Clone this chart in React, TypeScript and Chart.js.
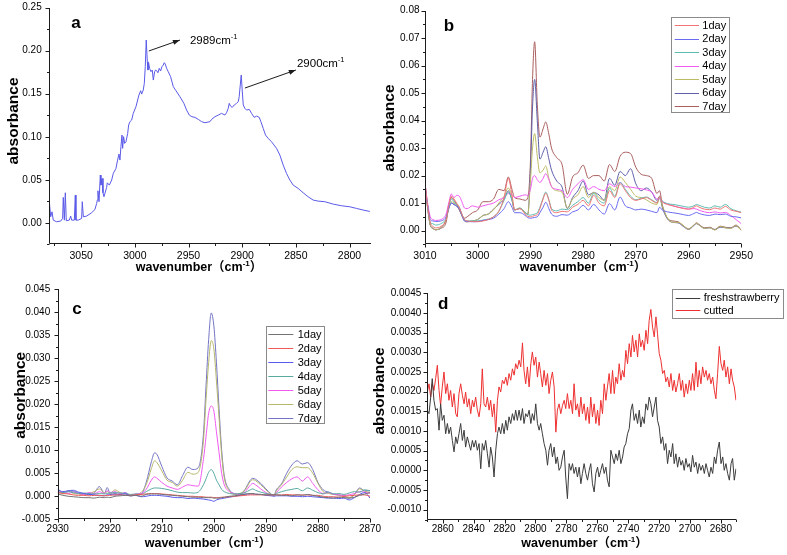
import React, { useEffect, useRef } from 'react';
import { Chart, registerables } from 'chart.js';

Chart.register(...registerables);

const W = 787;
const H = 555;
const SANS = "'Liberation Sans', Arial, Helvetica, sans-serif";
const NARROW = "'Liberation Sans Narrow', 'Liberation Sans', Arial, sans-serif";
const TITLE_FONT = "bold 12.5px 'Liberation Sans', Arial, 'Noto Sans CJK SC', sans-serif";
const SUP_FONT = "bold 8px 'Liberation Sans', Arial, sans-serif";

// ---------------- Panel a ----------------
const A_WN = [3079.7, 3078.4, 3077.2, 3076.0, 3072.9, 3069.1, 3067.3, 3066.7, 3065.7, 3064.8,
  3063.9, 3061.1, 3059.8, 3058.9, 3056.4, 3055.5, 3054.9, 3052.7, 3049.6, 3049.0,
  3048.0, 3044.9, 3040.3, 3037.2, 3035.6, 3035.0, 3034.4, 3033.4, 3032.2, 3031.6,
  3030.6, 3029.7, 3028.8, 3026.3, 3025.7, 3023.8, 3021.6, 3020.1, 3017.6, 3016.1,
  3014.8, 3013.9, 3013.0, 3012.0, 3011.4, 3010.5, 3009.5, 3008.3, 3006.7, 3005.8,
  3004.6, 3003.0, 3001.5, 2999.0, 2997.4, 2996.2, 2994.6, 2993.7, 2992.2, 2991.2,
  2990.3, 2989.4, 2988.4, 2987.8, 2987.2, 2986.3, 2985.0, 2983.8, 2982.8, 2981.6,
  2980.7, 2979.7, 2978.5, 2977.3, 2976.0, 2974.8, 2973.5, 2972.6, 2971.7, 2970.4,
  2968.9, 2966.7, 2964.2, 2961.7, 2958.0, 2954.3, 2951.8, 2949.3, 2946.8, 2944.0,
  2940.9, 2937.8, 2934.7, 2930.1, 2928.5, 2925.4, 2922.3, 2919.2, 2916.1, 2914.6,
  2913.0, 2912.1, 2910.9, 2909.3, 2907.4, 2905.3, 2903.7, 2902.8, 2901.8, 2900.9,
  2900.0, 2899.0, 2897.5, 2895.9, 2893.4, 2891.3, 2888.8, 2886.6, 2884.1, 2882.6,
  2880.4, 2878.3, 2875.8, 2872.7, 2868.0, 2864.9, 2861.8, 2858.7, 2855.6, 2852.5,
  2847.9, 2843.2, 2838.6, 2833.9, 2829.2, 2823.0, 2815.2, 2807.5, 2799.7, 2793.5,
  2787.3, 2781.1];
const A_ABS = [0.0245, 0.0070, 0.0128, 0.0031, 0.0012, 0.0020, 0.0051, 0.0295, 0.0031, 0.0349,
  0.0024, 0.0031, 0.0078, 0.0031, 0.0031, 0.0322, 0.0031, 0.0031, 0.0051, 0.0245,
  0.0070, 0.0078, 0.0117, 0.0155, 0.0225, 0.0264, 0.0372, 0.0245, 0.0555, 0.0438,
  0.0516, 0.0349, 0.0303, 0.0411, 0.0465, 0.0438, 0.0497, 0.0574, 0.0632, 0.0729,
  0.0799, 0.0729, 0.0884, 0.1020, 0.0865, 0.1001, 0.0923, 0.0942, 0.1039, 0.1136,
  0.1175, 0.1194, 0.1272, 0.1349, 0.1427, 0.1485, 0.1535, 0.1496, 0.1543, 0.1620,
  0.1814, 0.2124, 0.1872, 0.1775, 0.1861, 0.1795, 0.1756, 0.1775, 0.1659, 0.1756,
  0.1775, 0.1768, 0.1744, 0.1795, 0.1764, 0.1814, 0.1834, 0.1861, 0.1845, 0.1795,
  0.1756, 0.1698, 0.1582, 0.1535, 0.1465, 0.1388, 0.1310, 0.1252, 0.1233, 0.1225,
  0.1202, 0.1175, 0.1163, 0.1175, 0.1202, 0.1233, 0.1252, 0.1272, 0.1252, 0.1279,
  0.1330, 0.1388, 0.1357, 0.1341, 0.1369, 0.1388, 0.1407, 0.1465, 0.1601, 0.1717,
  0.1543, 0.1369, 0.1330, 0.1310, 0.1318, 0.1272, 0.1225, 0.1240, 0.1225, 0.1175,
  0.1097, 0.1020, 0.0981, 0.0942, 0.0865, 0.0787, 0.0671, 0.0574, 0.0497, 0.0438,
  0.0400, 0.0349, 0.0303, 0.0264, 0.0252, 0.0245, 0.0217, 0.0198, 0.0186, 0.0167,
  0.0148, 0.0132];
const A_X_MAJOR = [3050, 3000, 2950, 2900, 2850, 2800];
const A_X_MINOR = [3075, 3025, 2975, 2925, 2875, 2825];
const A_Y_MAJOR = [0, 0.05, 0.1, 0.15, 0.2, 0.25];
const A_Y_MINOR = [-0.025, 0.025, 0.075, 0.125, 0.175, 0.225];
const A_PEAK_LABELS = ['2989', '2900'];
const A_ARROW_FROM = [[2987.0, 0.1997], [2897.5, 0.1566]];
const A_ARROW_TO = [[2958.0, 0.2124], [2850.0, 0.1776]];
const A_TEXT_AT = [[2948.7, 0.2124], [2849.0, 0.1863]];

// ---------------- Panel b ----------------
const B_WN = [3010, 3009.5, 3009, 3008.5, 3008, 3007, 3006, 3005.5, 3005, 3004.5,
  3004, 3003.5, 3003, 3002.5, 3002, 3001, 3000, 2999, 2998, 2997,
  2996, 2995, 2994.2, 2993.5, 2993, 2992, 2991, 2990.5, 2990, 2989.6,
  2989.2, 2988.7, 2988.2, 2987.6, 2987.1, 2986.5, 2986, 2985, 2984, 2983,
  2982, 2981, 2980, 2979, 2978, 2977, 2976, 2975, 2974, 2973,
  2972, 2971, 2970, 2969, 2968, 2967, 2966, 2965.5, 2965, 2964,
  2963, 2962, 2961, 2960, 2959, 2958.5, 2958, 2957, 2956, 2955,
  2954, 2953, 2952, 2951, 2950];
const B_DAY1 = [0.017, 0.009, 0.003, 0.0015, 0.001, 0.0015, 0.004, 0.009, 0.0125, 0.0115,
  0.0100, 0.0085, 0.0060, 0.0040, 0.0035, 0.0033, 0.0032, 0.0035, 0.0040, 0.0050,
  0.0070, 0.0120, 0.0190, 0.0130, 0.0075, 0.0080, 0.0060, 0.0052, 0.0050, 0.0052,
  0.0055, 0.0058, 0.0080, 0.0115, 0.0136, 0.0110, 0.0075, 0.0065, 0.0070, 0.0068,
  0.0085, 0.0095, 0.0110, 0.0090, 0.0128, 0.0100, 0.0090, 0.0145, 0.0120, 0.0170,
  0.0145, 0.0120, 0.0110, 0.0115, 0.0120, 0.0110, 0.0100, 0.0125, 0.0105, 0.0095,
  0.0090, 0.0085, 0.0080, 0.0078, 0.0085, 0.0090, 0.0085, 0.0078, 0.0076, 0.0082,
  0.0078, 0.0088, 0.0075, 0.0070, 0.0065];
const B_DAY2 = [0.016, 0.009, 0.004, 0.0035, 0.0033, 0.0035, 0.005, 0.008, 0.0100, 0.0095,
  0.0090, 0.0080, 0.0055, 0.0035, 0.0033, 0.0032, 0.0033, 0.0037, 0.0040, 0.0045,
  0.0060, 0.0080, 0.0105, 0.0085, 0.0065, 0.0065, 0.0055, 0.0047, 0.0045, 0.0046,
  0.0048, 0.0050, 0.0065, 0.0085, 0.0103, 0.0080, 0.0060, 0.0052, 0.0058, 0.0056,
  0.0068, 0.0075, 0.0092, 0.0075, 0.0095, 0.0075, 0.0060, 0.0098, 0.0075, 0.0122,
  0.0090, 0.0082, 0.0075, 0.0078, 0.0075, 0.0070, 0.0065, 0.0085, 0.0075, 0.0068,
  0.0065, 0.0062, 0.0058, 0.0055, 0.0062, 0.0066, 0.0062, 0.0057, 0.0055, 0.0060,
  0.0058, 0.0060, 0.0052, 0.0050, 0.0046];
const B_DAY3 = [0.016, 0.009, 0.003, 0.0025, 0.002, 0.0025, 0.0045, 0.0085, 0.0115, 0.0105,
  0.0095, 0.0085, 0.0060, 0.0040, 0.0035, 0.0035, 0.0035, 0.0038, 0.0042, 0.0050,
  0.0070, 0.0110, 0.0140, 0.0110, 0.0075, 0.0082, 0.0065, 0.0058, 0.0056, 0.0058,
  0.0060, 0.0065, 0.0085, 0.0118, 0.0140, 0.0112, 0.0080, 0.0072, 0.0078, 0.0076,
  0.0092, 0.0105, 0.0120, 0.0100, 0.0135, 0.0110, 0.0100, 0.0155, 0.0125, 0.0175,
  0.0150, 0.0125, 0.0112, 0.0118, 0.0122, 0.0112, 0.0102, 0.0120, 0.0108, 0.0098,
  0.0095, 0.0092, 0.0088, 0.0085, 0.0090, 0.0095, 0.0092, 0.0085, 0.0082, 0.0090,
  0.0085, 0.0095, 0.0080, 0.0072, 0.0067];
const B_DAY4 = [0.017, 0.010, 0.005, 0.004, 0.0037, 0.004, 0.006, 0.010, 0.0133, 0.0120,
  0.0128, 0.0125, 0.0105, 0.0082, 0.0080, 0.0090, 0.0085, 0.0090, 0.0095, 0.0100,
  0.0112, 0.0120, 0.0135, 0.0130, 0.0120, 0.0125, 0.0130, 0.0128, 0.0150, 0.0190,
  0.0200, 0.0185, 0.0175, 0.0190, 0.0207, 0.0185, 0.0160, 0.0150, 0.0145, 0.0120,
  0.0150, 0.0170, 0.0185, 0.0150, 0.0160, 0.0150, 0.0145, 0.0170, 0.0160, 0.0175,
  0.0160, 0.0158, 0.0155, 0.0152, 0.0148, 0.0140, 0.0115, 0.0115, 0.0105, 0.0097,
  0.0090, 0.0085, 0.0082, 0.0078, 0.0080, 0.0078, 0.0074, 0.0068, 0.0065, 0.0068,
  0.0064, 0.0066, 0.0055, 0.0040, 0.0025];
const B_DAY5 = [0.016, 0.008, 0.002, 0.0008, 0.0003, 0.001, 0.004, 0.008, 0.0105, 0.0100,
  0.0092, 0.0080, 0.0055, 0.0035, 0.0032, 0.0035, 0.0040, 0.0055, 0.0060, 0.0075,
  0.0100, 0.0125, 0.0155, 0.0120, 0.0075, 0.0082, 0.0065, 0.0060, 0.0180, 0.0300,
  0.0353, 0.0270, 0.0210, 0.0220, 0.0235, 0.0190, 0.0160, 0.0145, 0.0140, 0.0082,
  0.0115, 0.0130, 0.0160, 0.0120, 0.0140, 0.0120, 0.0110, 0.0160, 0.0145, 0.0195,
  0.0175, 0.0150, 0.0125, 0.0120, 0.0112, 0.0100, 0.0095, 0.0120, 0.0090, 0.0045,
  0.0030, 0.0030, 0.0018, 0.0005, 0.0020, 0.0026, 0.0020, 0.0008, 0.0010, 0.0002,
  0.0015, 0.0010, 0.0008, 0.0018, 0.0000];
const B_DAY6 = [0.016, 0.008, 0.002, 0.0008, 0.0003, 0.001, 0.004, 0.008, 0.0100, 0.0095,
  0.0088, 0.0078, 0.0055, 0.0035, 0.0032, 0.0035, 0.0040, 0.0055, 0.0060, 0.0078,
  0.0095, 0.0115, 0.0145, 0.0110, 0.0075, 0.0080, 0.0065, 0.0060, 0.0220, 0.0450,
  0.0550, 0.0400, 0.0260, 0.0285, 0.0305, 0.0260, 0.0220, 0.0180, 0.0158, 0.0080,
  0.0120, 0.0145, 0.0180, 0.0130, 0.0138, 0.0130, 0.0110, 0.0190, 0.0165, 0.0215,
  0.0200, 0.0225, 0.0170, 0.0145, 0.0155, 0.0140, 0.0110, 0.0125, 0.0085, 0.0042,
  0.0030, 0.0028, 0.0015, 0.0004, 0.0018, 0.0025, 0.0020, 0.0008, 0.0010, 0.0003,
  0.0012, 0.0010, 0.0009, 0.0016, 0.0001];
const B_DAY7 = [0.0175, 0.009, 0.002, 0.0008, 0.0003, 0.0008, 0.003, 0.009, 0.0120, 0.0110,
  0.0095, 0.0075, 0.0055, 0.0045, 0.0050, 0.0065, 0.0075, 0.0105, 0.0105, 0.0115,
  0.0150, 0.0145, 0.0195, 0.0150, 0.0120, 0.0115, 0.0110, 0.0120, 0.0250, 0.0550,
  0.0687, 0.0460, 0.0340, 0.0370, 0.0395, 0.0350, 0.0300, 0.0265, 0.0240, 0.0132,
  0.0195, 0.0210, 0.0238, 0.0190, 0.0200, 0.0200, 0.0180, 0.0240, 0.0215, 0.0270,
  0.0285, 0.0280, 0.0230, 0.0205, 0.0200, 0.0190, 0.0135, 0.0145, 0.0095, 0.0045,
  0.0035, 0.0032, 0.0018, 0.0006, 0.0020, 0.0028, 0.0022, 0.0010, 0.0012, 0.0004,
  0.0016, 0.0012, 0.0010, 0.0020, 0.0002];
const B_LABELS = ['1day', '2day', '3day', '4day', '5day', '6day', '7day'];
const B_COLORS = ['#f07474', '#6a6af0', '#5cbcb0', '#f05cf0', '#bcbc64', '#5e5eaa', '#aa5e5e'];
const B_X_MAJOR = [3010, 3000, 2990, 2980, 2970, 2960, 2950];
const B_X_MINOR = [3005, 2995, 2985, 2975, 2965, 2955];
const B_Y_MAJOR = [0, 0.01, 0.02, 0.03, 0.04, 0.05, 0.06, 0.07, 0.08];
const B_Y_MINOR = [-0.005, 0.005, 0.015, 0.025, 0.035, 0.045, 0.055, 0.065, 0.075];

// ---------------- Panel c ----------------
const C_WN = [2930, 2929, 2928, 2927, 2926, 2925, 2924, 2923, 2922, 2921,
  2920.5, 2920, 2919, 2918, 2917, 2916, 2915, 2914, 2913, 2912,
  2911.4, 2911, 2910, 2909, 2908, 2907, 2906, 2905, 2904, 2903,
  2902, 2901.5, 2901, 2900.5, 2900, 2899.5, 2899, 2898.5, 2898, 2897,
  2896, 2895, 2894, 2893, 2892.5, 2892, 2891, 2890, 2889, 2888.5,
  2888, 2887, 2886, 2885, 2884, 2883, 2882, 2881, 2880, 2879,
  2878, 2877, 2876, 2875, 2874, 2873, 2872, 2871, 2870];
const C_DAY1 = [0.0005, 0.0002, 0.0000, -0.0001, -0.0002, -0.0003, -0.0003, -0.0004, -0.0002, -0.0003,
  -0.0002, -0.0003, 0.0000, 0.0001, 0.0002, 0.0001, 0.0002, 0.0000, 0.0004, 0.0005,
  0.0005, 0.0005, 0.0004, 0.0003, 0.0002, 0.0001, 0.0000, -0.0001, -0.0002, -0.0002,
  -0.0003, -0.0003, -0.0003, -0.0003, -0.0004, -0.0004, -0.0004, -0.0003, -0.0002, 0.0000,
  0.0001, 0.0003, 0.0005, 0.0006, 0.0006, 0.0005, 0.0004, 0.0003, 0.0003, 0.0003,
  0.0003, 0.0002, 0.0002, 0.0001, 0.0003, 0.0002, 0.0004, 0.0002, 0.0000, -0.0002,
  -0.0003, -0.0004, -0.0002, -0.0003, -0.0004, -0.0002, 0.0002, 0.0005, 0.0008];
const C_DAY2 = [0.0008, 0.0006, 0.0005, 0.0003, 0.0002, 0.0002, 0.0001, 0.0002, 0.0002, 0.0001,
  0.0002, 0.0002, 0.0003, 0.0003, 0.0002, 0.0002, 0.0003, 0.0004, 0.0005, 0.0006,
  0.0006, 0.0006, 0.0005, 0.0004, 0.0003, 0.0002, 0.0001, 0.0000, 0.0000, -0.0001,
  -0.0001, -0.0002, -0.0002, -0.0002, -0.0003, -0.0003, -0.0003, -0.0002, -0.0002, -0.0001,
  0.0000, 0.0001, 0.0002, 0.0003, 0.0003, 0.0003, 0.0003, 0.0003, 0.0003, 0.0003,
  0.0003, 0.0003, 0.0004, 0.0003, 0.0003, 0.0003, 0.0003, 0.0002, 0.0002, 0.0000,
  -0.0001, -0.0001, -0.0002, 0.0000, 0.0001, 0.0002, 0.0003, 0.0003, 0.0000];
const C_DAY3 = [0.0015, 0.0010, 0.0012, 0.0013, 0.0009, 0.0006, 0.0004, 0.0003, 0.0002, 0.0001,
  0.0003, 0.0004, 0.0003, 0.0004, 0.0005, 0.0001, 0.0002, -0.0001, 0.0000, 0.0002,
  0.0002, 0.0002, 0.0001, 0.0000, -0.0002, -0.0003, -0.0003, -0.0005, -0.0004, -0.0005,
  -0.0006, -0.0007, -0.0008, -0.0009, -0.0011, -0.0008, -0.0006, -0.0005, -0.0004, -0.0002,
  0.0000, 0.0002, 0.0004, 0.0005, 0.0005, 0.0004, 0.0004, 0.0002, 0.0001, 0.0000,
  0.0001, 0.0001, 0.0001, 0.0000, 0.0000, -0.0001, 0.0000, -0.0001, -0.0002, -0.0003,
  -0.0004, -0.0004, -0.0005, -0.0004, -0.0008, -0.0003, 0.0004, 0.0008, -0.0004];
const C_DAY4 = [0.0010, 0.0008, 0.0010, 0.0008, 0.0006, 0.0007, 0.0006, 0.0005, 0.0006, 0.0005,
  0.0006, 0.0007, 0.0008, 0.0007, 0.0006, 0.0004, 0.0005, 0.0004, 0.0010, 0.0016,
  0.0018, 0.0018, 0.0017, 0.0015, 0.0012, 0.0009, 0.0008, 0.0008, 0.0007, 0.0009,
  0.0025, 0.0038, 0.0052, 0.0058, 0.0050, 0.0035, 0.0025, 0.0015, 0.0010, 0.0006,
  0.0005, 0.0006, 0.0008, 0.0014, 0.0016, 0.0013, 0.0009, 0.0006, 0.0004, 0.0003,
  0.0006, 0.0010, 0.0013, 0.0015, 0.0017, 0.0012, 0.0018, 0.0013, 0.0008, 0.0005,
  0.0009, 0.0005, 0.0006, 0.0004, 0.0007, 0.0010, 0.0009, 0.0014, 0.0012];
const C_DAY5 = [0.0008, 0.0010, 0.0006, 0.0009, 0.0006, 0.0004, 0.0008, 0.0006, 0.0010, 0.0006,
  0.0012, 0.0008, 0.0010, 0.0006, 0.0007, 0.0002, 0.0005, 0.0006, 0.0015, 0.0035,
  0.0042, 0.0040, 0.0030, 0.0022, 0.0018, 0.0015, 0.0020, 0.0025, 0.0023, 0.0022,
  0.0080, 0.0130, 0.0180, 0.0196, 0.0185, 0.0140, 0.0095, 0.0050, 0.0025, 0.0010,
  0.0006, 0.0004, 0.0010, 0.0024, 0.0028, 0.0025, 0.0016, 0.0008, 0.0003, 0.0002,
  0.0008, 0.0020, 0.0030, 0.0038, 0.0042, 0.0033, 0.0042, 0.0028, 0.0014, 0.0006,
  0.0008, 0.0004, 0.0003, 0.0002, 0.0003, 0.0006, 0.0010, 0.0009, 0.0006];
const C_DAY6 = [0.0012, 0.0005, 0.0012, 0.0006, 0.0005, 0.0003, 0.0006, 0.0010, 0.0016, 0.0008,
  0.0010, 0.0006, 0.0014, 0.0008, 0.0005, 0.0003, 0.0004, 0.0008, 0.0025, 0.0060,
  0.0077, 0.0074, 0.0055, 0.0035, 0.0030, 0.0022, 0.0035, 0.0052, 0.0048, 0.0052,
  0.0120, 0.0210, 0.0290, 0.0338, 0.0320, 0.0250, 0.0170, 0.0090, 0.0040, 0.0012,
  0.0004, 0.0006, 0.0014, 0.0032, 0.0036, 0.0034, 0.0025, 0.0014, 0.0004, 0.0001,
  0.0012, 0.0025, 0.0042, 0.0058, 0.0064, 0.0062, 0.0062, 0.0050, 0.0028, 0.0010,
  0.0006, 0.0004, 0.0002, 0.0001, -0.0003, 0.0003, 0.0016, 0.0011, 0.0008];
const C_DAY7 = [0.0015, 0.0008, 0.0010, 0.0011, 0.0007, 0.0005, 0.0004, 0.0007, 0.0021, 0.0006,
  0.0019, 0.0008, 0.0006, 0.0004, 0.0008, 0.0001, 0.0003, 0.0004, 0.0030, 0.0075,
  0.0094, 0.0092, 0.0065, 0.0040, 0.0033, 0.0025, 0.0045, 0.0063, 0.0058, 0.0062,
  0.0135, 0.0240, 0.0340, 0.0398, 0.0370, 0.0290, 0.0190, 0.0100, 0.0045, 0.0014,
  0.0005, 0.0003, 0.0015, 0.0035, 0.0039, 0.0037, 0.0028, 0.0016, 0.0005, 0.0001,
  0.0014, 0.0027, 0.0050, 0.0068, 0.0077, 0.0070, 0.0073, 0.0058, 0.0030, 0.0014,
  0.0009, 0.0005, 0.0003, 0.0000, -0.0004, 0.0004, 0.0018, 0.0012, 0.0012];
const C_LABELS = ['1day', '2day', '3day', '4day', '5day', '6day', '7day'];
const C_COLORS = ['#747474', '#ee5a5a', '#5a5aee', '#5aaaa2', '#f05af0', '#b6b66c', '#7474c4'];
const C_X_MAJOR = [2930, 2920, 2910, 2900, 2890, 2880, 2870];
const C_X_MINOR = [2925, 2915, 2905, 2895, 2885, 2875];
const C_Y_MAJOR = [-0.005, 0, 0.005, 0.01, 0.015, 0.02, 0.025, 0.03, 0.035, 0.04, 0.045];
const C_Y_MINOR = [-0.0025, 0.0025, 0.0075, 0.0125, 0.0175, 0.0225, 0.0275, 0.0325, 0.0375, 0.0425];

// ---------------- Panel d ----------------
const D_WN = [2870.0, 2868.9, 2867.8, 2866.8, 2865.7, 2864.6, 2863.5, 2862.4, 2861.4, 2860.3,
  2859.2, 2858.1, 2857.0, 2856.0, 2854.9, 2853.8, 2852.7, 2851.6, 2850.6, 2849.5,
  2848.4, 2847.3, 2846.2, 2845.2, 2844.1, 2843.0, 2841.9, 2840.8, 2839.8, 2838.7,
  2837.6, 2836.5, 2835.4, 2834.4, 2833.3, 2832.2, 2831.1, 2830.0, 2829.0, 2827.9,
  2826.8, 2825.7, 2824.6, 2823.6, 2822.5, 2821.4, 2820.3, 2819.2, 2818.2, 2817.1,
  2816.0, 2814.9, 2813.8, 2812.8, 2811.7, 2810.6, 2809.5, 2808.4, 2807.4, 2806.3,
  2805.2, 2804.1, 2803.0, 2802.0, 2800.9, 2799.8, 2798.7, 2797.6, 2796.6, 2795.5,
  2794.4, 2793.3, 2792.2, 2791.2, 2790.1, 2789.0, 2787.9, 2786.8, 2785.8, 2784.7,
  2783.6, 2782.5, 2781.4, 2780.4, 2779.3, 2778.2, 2777.1, 2776.0, 2775.0, 2773.9,
  2772.8, 2771.7, 2770.6, 2769.6, 2768.5, 2767.4, 2766.3, 2765.2, 2764.2, 2763.1,
  2762.0, 2760.9, 2759.8, 2758.8, 2757.7, 2756.6, 2755.5, 2754.4, 2753.4, 2752.3,
  2751.2, 2750.1, 2749.0, 2748.0, 2746.9, 2745.8, 2744.7, 2743.6, 2742.6, 2741.5,
  2740.4, 2739.3, 2738.2, 2737.2, 2736.1, 2735.0, 2733.9, 2732.8, 2731.8, 2730.7,
  2729.6, 2728.5, 2727.4, 2726.4, 2725.3, 2724.2, 2723.1, 2722.0, 2721.0, 2719.9,
  2718.8, 2717.7, 2716.6, 2715.6, 2714.5, 2713.4, 2712.3, 2711.2, 2710.2, 2709.1,
  2708.0, 2706.9, 2705.8, 2704.8, 2703.7, 2702.6, 2701.5, 2700.4, 2699.4, 2698.3,
  2697.2, 2696.1, 2695.0, 2694.0, 2692.9, 2691.8, 2690.7, 2689.6, 2688.6, 2687.5,
  2686.4, 2685.3, 2684.2, 2683.2, 2682.1, 2681.0, 2679.9, 2678.8, 2677.8, 2676.7,
  2675.6, 2674.5, 2673.4, 2672.4, 2671.3, 2670.2];
const D_FRESH = [0.00153, 0.00144, 0.00186, 0.00233, 0.00178, 0.00153, 0.00157, 0.00102, 0.00169, 0.00127,
  0.00140, 0.00093, 0.00119, 0.00093, 0.00110, 0.00076, 0.00047, 0.00085, 0.00068, 0.00093,
  0.00119, 0.00076, 0.00102, 0.00059, 0.00085, 0.00068, 0.00051, 0.00076, 0.00059, 0.00076,
  0.00051, 0.00068, 0.00004, 0.00068, 0.00051, 0.00076, 0.00042, 0.00008, 0.00059, 0.00034,
  -0.00017, 0.00051, 0.00093, 0.00110, 0.00093, 0.00119, 0.00093, 0.00127, 0.00102, 0.00136,
  0.00119, 0.00144, 0.00127, 0.00153, 0.00127, 0.00153, 0.00127, 0.00157, 0.00119, 0.00144,
  0.00136, 0.00153, 0.00119, 0.00144, 0.00127, 0.00169, 0.00119, 0.00102, 0.00119, 0.00093,
  0.00068, 0.00051, 0.00013, 0.00051, 0.00068, 0.00034, 0.00059, 0.00017, 0.00034, 0.00000,
  0.00008, 0.00034, 0.00051, -0.00017, -0.00072, 0.00017, 0.00000, 0.00017, -0.00008, 0.00008,
  -0.00017, 0.00008, -0.00034, -0.00008, 0.00017, -0.00008, -0.00025, 0.00000, 0.00017, -0.00034,
  -0.00055, -0.00008, 0.00008, -0.00017, 0.00000, 0.00017, -0.00008, 0.00008, -0.00025, -0.00042,
  0.00051, 0.00034, 0.00017, 0.00042, 0.00025, 0.00051, 0.00017, 0.00034, 0.00059, 0.00068,
  0.00093, 0.00106, 0.00153, 0.00169, 0.00127, 0.00144, 0.00119, 0.00153, 0.00110, 0.00136,
  0.00119, 0.00169, 0.00153, 0.00186, 0.00169, 0.00136, 0.00161, 0.00186, 0.00127, 0.00110,
  0.00068, 0.00085, 0.00051, 0.00068, 0.00017, 0.00051, 0.00034, 0.00068, 0.00017, 0.00042,
  0.00008, 0.00034, 0.00013, 0.00025, 0.00000, 0.00030, 0.00008, 0.00017, -0.00004, 0.00038,
  0.00008, 0.00021, -0.00008, 0.00017, 0.00000, 0.00013, -0.00008, 0.00017, 0.00000, -0.00017,
  0.00008, -0.00008, 0.00034, 0.00017, 0.00051, 0.00072, 0.00017, 0.00034, 0.00000, 0.00017,
  -0.00008, -0.00025, 0.00017, 0.00030, -0.00025, 0.00004];
const D_CUT = [0.00199, 0.00220, 0.00186, 0.00220, 0.00203, 0.00233, 0.00267, 0.00203, 0.00165, 0.00212,
  0.00250, 0.00195, 0.00220, 0.00178, 0.00203, 0.00161, 0.00195, 0.00144, 0.00136, 0.00195,
  0.00220, 0.00191, 0.00169, 0.00199, 0.00161, 0.00182, 0.00144, 0.00178, 0.00161, 0.00186,
  0.00153, 0.00136, 0.00169, 0.00258, 0.00169, 0.00161, 0.00186, 0.00153, 0.00178, 0.00136,
  0.00169, 0.00097, 0.00178, 0.00212, 0.00199, 0.00229, 0.00220, 0.00237, 0.00216, 0.00246,
  0.00229, 0.00258, 0.00242, 0.00271, 0.00258, 0.00280, 0.00263, 0.00324, 0.00254, 0.00220,
  0.00263, 0.00212, 0.00271, 0.00301, 0.00267, 0.00288, 0.00237, 0.00275, 0.00246, 0.00212,
  0.00254, 0.00216, 0.00246, 0.00195, 0.00229, 0.00250, 0.00212, 0.00097, 0.00153, 0.00169,
  0.00144, 0.00165, 0.00178, 0.00157, 0.00195, 0.00157, 0.00178, 0.00144, 0.00220, 0.00153,
  0.00169, 0.00136, 0.00186, 0.00144, 0.00169, 0.00127, 0.00161, 0.00119, 0.00186, 0.00136,
  0.00169, 0.00119, 0.00153, 0.00114, 0.00178, 0.00144, 0.00220, 0.00178, 0.00212, 0.00246,
  0.00195, 0.00254, 0.00195, 0.00237, 0.00220, 0.00271, 0.00229, 0.00254, 0.00237, 0.00305,
  0.00271, 0.00322, 0.00288, 0.00343, 0.00301, 0.00331, 0.00288, 0.00347, 0.00314, 0.00331,
  0.00305, 0.00356, 0.00322, 0.00381, 0.00409, 0.00364, 0.00339, 0.00390, 0.00347, 0.00297,
  0.00280, 0.00246, 0.00254, 0.00225, 0.00237, 0.00212, 0.00246, 0.00203, 0.00229, 0.00199,
  0.00220, 0.00246, 0.00203, 0.00229, 0.00186, 0.00220, 0.00195, 0.00229, 0.00203, 0.00246,
  0.00203, 0.00275, 0.00212, 0.00254, 0.00220, 0.00263, 0.00237, 0.00254, 0.00229, 0.00246,
  0.00220, 0.00237, 0.00203, 0.00182, 0.00246, 0.00315, 0.00271, 0.00254, 0.00280, 0.00237,
  0.00263, 0.00220, 0.00258, 0.00229, 0.00212, 0.00178];
const D_LABELS = ['freshstrawberry', 'cutted'];
const D_COLORS = ['#3c3c3c', '#ee3030'];
const D_X_MAJOR = [2860, 2840, 2820, 2800, 2780, 2760, 2740, 2720, 2700, 2680];
const D_X_MINOR = [2870, 2850, 2830, 2810, 2790, 2770, 2750, 2730, 2710, 2690, 2670];
const D_Y_MAJOR = [-0.001, -0.0005, 0, 0.0005, 0.001, 0.0015, 0.002, 0.0025, 0.003, 0.0035, 0.004, 0.0045];
const D_Y_MINOR = [-0.00125, -0.00075, -0.00025, 0.00025, 0.00075, 0.00125, 0.00175, 0.00225, 0.00275, 0.00325, 0.00375, 0.00425];

// ---------------- helpers ----------------
type Seg = { text: string; font: string; dy: number };

function drawSegs(ctx: CanvasRenderingContext2D, segs: Seg[], x: number, y: number, align: 'left' | 'center') {
  ctx.save();
  ctx.fillStyle = '#000';
  ctx.textBaseline = 'alphabetic';
  ctx.textAlign = 'left';
  let total = 0;
  const widths = segs.map((s) => {
    ctx.font = s.font;
    const w = ctx.measureText(s.text).width;
    total += w;
    return w;
  });
  let cx = align === 'center' ? x - total / 2 : x;
  segs.forEach((s, i) => {
    ctx.font = s.font;
    ctx.fillText(s.text, cx, y + s.dy);
    cx += widths[i];
  });
  ctx.restore();
}

function wavenumberSegs(): Seg[] {
  return [
    { text: 'wavenumber（cm', font: TITLE_FONT, dy: 0 },
    { text: '-1', font: SUP_FONT, dy: -5.5 },
    { text: '）', font: TITLE_FONT, dy: 0 },
  ];
}

type Panel = {
  key: string;
  letter: string;
  letterPos: [number, number];
  area: { l: number; t: number; r: number; b: number };
  xMin: number; xMax: number; yMin: number; yMax: number;
  xMajor: number[]; xMinor: number[]; yMajor: number[]; yMinor: number[];
  yDec: number;
  xFamily: string; xSize: number; xPad: number; yPad: number;
  xs: number[];
  series: { label: string; color: string; ys: number[] }[];
  smooth: boolean;
  yTitle: [number, number];
  xTitle: [number, number];
  legend?: { box: [number, number, number, number]; line: [number, number]; textX: number; y0: number; step: number };
  annotate?: boolean;
};

const PANELS: Panel[] = [
  {
    key: 'a', letter: 'a', letterPos: [76, 28.3],
    area: { l: 49, t: 7.7, r: 371, b: 244.3 },
    xMin: 2780, xMax: 3080, yMin: -0.025, yMax: 0.25,
    xMajor: A_X_MAJOR, xMinor: A_X_MINOR, yMajor: A_Y_MAJOR, yMinor: A_Y_MINOR, yDec: 2,
    xFamily: NARROW, xSize: 10.5, xPad: 5.4, yPad: 7.3,
    xs: A_WN,
    series: [{ label: 'spectrum', color: '#5a5ae8', ys: A_ABS }],
    smooth: false,
    yTitle: [17.5, 121], xTitle: [199, 271],
    annotate: true,
  },
  {
    key: 'b', letter: 'b', letterPos: [449, 30.7],
    area: { l: 425, t: 10.7, r: 741.3, b: 244.3 },
    xMin: 2950, xMax: 3010, yMin: -0.005, yMax: 0.08,
    xMajor: B_X_MAJOR, xMinor: B_X_MINOR, yMajor: B_Y_MAJOR, yMinor: B_Y_MINOR, yDec: 2,
    xFamily: NARROW, xSize: 10.5, xPad: 5.4, yPad: 5.5,
    xs: B_WN,
    series: [B_DAY1, B_DAY2, B_DAY3, B_DAY4, B_DAY5, B_DAY6, B_DAY7].map((ys, i) => ({ label: B_LABELS[i], color: B_COLORS[i], ys })),
    smooth: true,
    yTitle: [394, 128], xTitle: [583, 271],
    legend: { box: [671.3, 17.3, 729.7, 112.3], line: [674.7, 699], textX: 702.3, y0: 25, step: 13.5 },
  },
  {
    key: 'c', letter: 'c', letterPos: [77, 313.7],
    area: { l: 57.7, t: 289, r: 370, b: 519.3 },
    xMin: 2870, xMax: 2930, yMin: -0.005, yMax: 0.045,
    xMajor: C_X_MAJOR, xMinor: C_X_MINOR, yMajor: C_Y_MAJOR, yMinor: C_Y_MINOR, yDec: 3,
    xFamily: SANS, xSize: 10, xPad: 4.2, yPad: 7.5,
    xs: C_WN,
    series: [C_DAY1, C_DAY2, C_DAY3, C_DAY4, C_DAY5, C_DAY6, C_DAY7].map((ys, i) => ({ label: C_LABELS[i], color: C_COLORS[i], ys })),
    smooth: true,
    yTitle: [25, 395.3], xTitle: [208, 547],
    legend: { box: [265.7, 326.3, 323.3, 423.7], line: [268.3, 293.3], textX: 297.7, y0: 334.3, step: 14 },
  },
  {
    key: 'd', letter: 'd', letterPos: [443.3, 309.3],
    area: { l: 427.3, t: 293.3, r: 736.3, b: 519.5 },
    xMin: 2670, xMax: 2870, yMin: -0.00125, yMax: 0.0045,
    xMajor: D_X_MAJOR, xMinor: D_X_MINOR, yMajor: D_Y_MAJOR, yMinor: D_Y_MINOR, yDec: 4,
    xFamily: NARROW, xSize: 10, xPad: 4.2, yPad: 6,
    xs: D_WN,
    series: [D_FRESH, D_CUT].map((ys, i) => ({ label: D_LABELS[i], color: D_COLORS[i], ys })),
    smooth: false,
    yTitle: [384, 391], xTitle: [584.5, 547],
    legend: { box: [672.3, 288.7, 783, 317.7], line: [675.7, 700.3], textX: 703.7, y0: 297.7, step: 12.7 },
  },
];

function decorPlugin(p: Panel) {
  return {
    id: 'decor_' + p.key,
    afterDatasetsDraw(chart: any) {
      const { ctx, chartArea: ca, scales } = chart;
      const xs = scales.x;
      const ys = scales.y;
      ctx.save();
      ctx.strokeStyle = '#1c1c1c';
      ctx.lineWidth = 1;
      const ax = Math.round(ca.left) + 0.5;
      const ay = Math.round(ca.bottom) - 0.5;
      ctx.beginPath();
      ctx.moveTo(ax, Math.round(ca.top));
      ctx.lineTo(ax, ay);
      ctx.lineTo(Math.round(ca.right), ay);
      p.xMajor.forEach((v) => { const px = Math.round(xs.getPixelForValue(v)) + 0.5; ctx.moveTo(px, ay); ctx.lineTo(px, ay + 4); });
      p.xMinor.forEach((v) => { const px = Math.round(xs.getPixelForValue(v)) + 0.5; ctx.moveTo(px, ay); ctx.lineTo(px, ay + 2.5); });
      p.yMajor.forEach((v) => { const py = Math.round(ys.getPixelForValue(v)) + 0.5; ctx.moveTo(ax, py); ctx.lineTo(ax - 4, py); });
      p.yMinor.forEach((v) => { const py = Math.round(ys.getPixelForValue(v)) + 0.5; ctx.moveTo(ax, py); ctx.lineTo(ax - 2.5, py); });
      ctx.stroke();
      ctx.restore();

      if (p.annotate) {
        A_PEAK_LABELS.forEach((lab, i) => {
          const x0 = xs.getPixelForValue(A_ARROW_FROM[i][0]);
          const y0 = ys.getPixelForValue(A_ARROW_FROM[i][1]);
          const x1 = xs.getPixelForValue(A_ARROW_TO[i][0]);
          const y1 = ys.getPixelForValue(A_ARROW_TO[i][1]);
          ctx.save();
          ctx.strokeStyle = '#1c1c1c';
          ctx.fillStyle = '#1c1c1c';
          ctx.lineWidth = 1;
          ctx.beginPath();
          ctx.moveTo(x0, y0);
          ctx.lineTo(x1, y1);
          ctx.stroke();
          const ang = Math.atan2(y1 - y0, x1 - x0);
          const len = 7, hw = 2.6;
          ctx.beginPath();
          ctx.moveTo(x1, y1);
          ctx.lineTo(x1 - len * Math.cos(ang) + hw * Math.sin(ang), y1 - len * Math.sin(ang) - hw * Math.cos(ang));
          ctx.lineTo(x1 - len * Math.cos(ang) - hw * Math.sin(ang), y1 - len * Math.sin(ang) + hw * Math.cos(ang));
          ctx.closePath();
          ctx.fill();
          ctx.restore();
          const tx = xs.getPixelForValue(A_TEXT_AT[i][0]);
          const ty = ys.getPixelForValue(A_TEXT_AT[i][1]);
          drawSegs(ctx, [
            { text: lab + 'cm', font: '11.5px ' + NARROW, dy: 0 },
            { text: '-1', font: '7.5px ' + SANS, dy: -5 },
          ], tx, ty + 4.2, 'left');
        });
      }
    },
    afterDraw(chart: any) {
      const ctx: CanvasRenderingContext2D = chart.ctx;
      ctx.save();
      ctx.fillStyle = '#000';
      ctx.font = 'bold 17px ' + SANS;
      ctx.textAlign = 'center';
      ctx.textBaseline = 'alphabetic';
      ctx.fillText(p.letter, p.letterPos[0], p.letterPos[1]);
      ctx.restore();
      ctx.save();
      ctx.translate(p.yTitle[0], p.yTitle[1]);
      ctx.rotate(-Math.PI / 2);
      ctx.fillStyle = '#000';
      ctx.font = 'bold 15.5px ' + SANS;
      ctx.textAlign = 'center';
      ctx.textBaseline = 'alphabetic';
      ctx.fillText('absorbance', 0, 0);
      ctx.restore();
      drawSegs(ctx, wavenumberSegs(), p.xTitle[0], p.xTitle[1], 'center');
      if (p.legend) {
        const lg = p.legend;
        const [bx0, by0, bx1, by1] = lg.box;
        ctx.save();
        ctx.fillStyle = '#fff';
        ctx.fillRect(bx0, by0, bx1 - bx0, by1 - by0);
        ctx.strokeStyle = '#8a8a8a';
        ctx.lineWidth = 1;
        ctx.strokeRect(Math.round(bx0) + 0.5, Math.round(by0) + 0.5, Math.round(bx1 - bx0), Math.round(by1 - by0));
        ctx.font = '11px ' + SANS;
        ctx.textAlign = 'left';
        ctx.textBaseline = 'middle';
        p.series.forEach((s, i) => {
          const yy = lg.y0 + i * lg.step;
          ctx.strokeStyle = s.color;
          ctx.lineWidth = 1;
          ctx.beginPath();
          ctx.moveTo(lg.line[0], Math.round(yy) + 0.5);
          ctx.lineTo(lg.line[1], Math.round(yy) + 0.5);
          ctx.stroke();
          ctx.fillStyle = '#000';
          ctx.fillText(s.label, lg.textX, yy + 0.5);
        });
        ctx.restore();
      }
    },
  };
}

function buildChart(canvas: HTMLCanvasElement, p: Panel) {
  const datasets = p.series.map((s) => ({
    label: s.label,
    data: p.xs.map((x, i) => ({ x, y: s.ys[i] })),
    borderColor: s.color,
    backgroundColor: s.color,
    borderWidth: 1,
    pointRadius: 0,
    fill: false,
    tension: p.smooth ? 0.4 : 0,
    cubicInterpolationMode: p.smooth ? 'monotone' : 'default',
  }));
  const zeroPad = (sc: any) => {
    sc.paddingLeft = 0;
    sc.paddingRight = 0;
    sc.paddingTop = 0;
    sc.paddingBottom = 0;
  };
  const yAxisW = p.area.l;
  const xAxisH = H - p.area.b;
  return new Chart(canvas, {
    type: 'line',
    data: { datasets } as any,
    options: {
      animation: false,
      responsive: false,
      devicePixelRatio: 1,
      events: [],
      layout: { padding: { left: 0, top: p.area.t, right: W - p.area.r, bottom: 0 } },
      scales: {
        x: {
          type: 'linear',
          reverse: true,
          min: p.xMin,
          max: p.xMax,
          afterBuildTicks: (sc: any) => { sc.ticks = p.xMajor.map((v) => ({ value: v })); },
          afterFit: (sc: any) => { sc.height = xAxisH; zeroPad(sc); },
          grid: { display: false, drawTicks: false },
          border: { display: false },
          ticks: {
            autoSkip: false,
            maxRotation: 0,
            minRotation: 0,
            padding: p.xPad,
            color: '#000',
            font: { family: p.xFamily, size: p.xSize },
            callback: (v: any) => String(v),
          },
        },
        y: {
          type: 'linear',
          min: p.yMin,
          max: p.yMax,
          afterBuildTicks: (sc: any) => { sc.ticks = p.yMajor.map((v) => ({ value: v })); },
          afterFit: (sc: any) => { sc.width = yAxisW; zeroPad(sc); },
          grid: { display: false, drawTicks: false },
          border: { display: false },
          ticks: {
            autoSkip: false,
            padding: p.yPad,
            color: '#000',
            font: { family: SANS, size: 10 },
            callback: (v: any) => Number(v).toFixed(p.yDec),
          },
        },
      },
      plugins: { legend: { display: false }, tooltip: { enabled: false }, title: { display: false } },
    } as any,
    plugins: [decorPlugin(p)],
  });
}

export default function App() {
  const r0 = useRef<HTMLCanvasElement>(null);
  const r1 = useRef<HTMLCanvasElement>(null);
  const r2 = useRef<HTMLCanvasElement>(null);
  const r3 = useRef<HTMLCanvasElement>(null);
  const refs = [r0, r1, r2, r3];
  useEffect(() => {
    const charts = PANELS.map((p, i) => buildChart(refs[i].current as HTMLCanvasElement, p));
    return () => charts.forEach((c) => c.destroy());
  }, []);
  return (
    <div style={{ position: 'absolute', left: 0, top: 0, width: W, height: H, background: '#fff', overflow: 'hidden' }}>
      {PANELS.map((p, i) => (
        <canvas
          key={p.key}
          ref={refs[i]}
          width={W}
          height={H}
          style={{ position: 'absolute', left: 0, top: 0, width: W, height: H }}
        />
      ))}
    </div>
  );
}
